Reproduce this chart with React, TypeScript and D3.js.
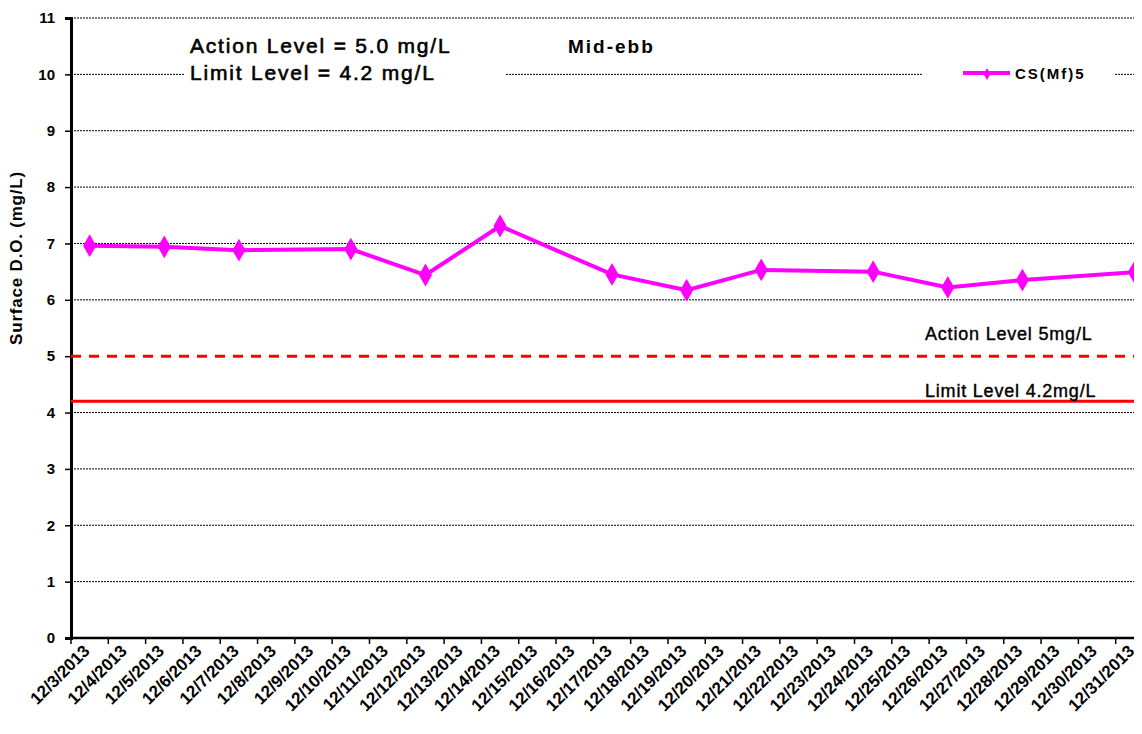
import { useEffect, useRef } from 'react';
import * as d3 from 'd3';

// all category labels on the x axis
const dates = [
  '12/3/2013', '12/4/2013', '12/5/2013', '12/6/2013', '12/7/2013', '12/8/2013', '12/9/2013',
  '12/10/2013', '12/11/2013', '12/12/2013', '12/13/2013', '12/14/2013', '12/15/2013', '12/16/2013',
  '12/17/2013', '12/18/2013', '12/19/2013', '12/20/2013', '12/21/2013', '12/22/2013', '12/23/2013',
  '12/24/2013', '12/25/2013', '12/26/2013', '12/27/2013', '12/28/2013', '12/29/2013', '12/30/2013',
  '12/31/2013',
];

// sampled days and CS(Mf)5 readings
const sampleDates = [
  '12/3/2013', '12/5/2013', '12/7/2013', '12/10/2013', '12/12/2013', '12/14/2013', '12/17/2013',
  '12/19/2013', '12/21/2013', '12/24/2013', '12/26/2013', '12/28/2013', '12/31/2013',
];
const csValues = [6.96, 6.94, 6.88, 6.9, 6.44, 7.31, 6.45, 6.17, 6.53, 6.5, 6.22, 6.35, 6.49];

const yTicks = [0, 1, 2, 3, 4, 5, 6, 7, 8, 9, 10, 11];
const actionLevel = 5.0;
const limitLevel = 4.2;

const FONT = "'Liberation Sans', Arial, sans-serif";

function App() {
  const svgRef = useRef<SVGSVGElement>(null);

  useEffect(() => {
    const w = 1142;
    const h = 734;
    const left = 71;
    const right = 1153;
    const top = 18;
    const bottom = 638;

    const svg = d3.select(svgRef.current)
      .attr('width', w)
      .attr('height', h)
      .style('background', '#ffffff')
      .style('display', 'block');
    svg.selectAll('*').remove();

    const xScale = d3.scaleBand().domain(dates).range([left, right]);
    const yScale = d3.scaleLinear().domain([0, 11]).range([bottom, top]);
    const cx = (d: string) => (xScale(d) as number) + xScale.bandwidth() / 2;

    // dotted gridlines (none at 5, the action line sits there)
    svg.append('g').selectAll('line').data(yTicks.filter(t => t > 0 && t !== 5)).enter()
      .append('line')
      .attr('x1', left).attr('x2', w)
      .attr('y1', d => yScale(d)).attr('y2', d => yScale(d))
      .attr('stroke', '#000').attr('stroke-width', 1)
      .attr('stroke-dasharray', '2,1');

    // white boxes behind the annotation and legend
    svg.append('rect').attr('x', 185).attr('y', 30).attr('width', 320).attr('height', 60).attr('fill', '#fff');
    svg.append('rect').attr('x', 922).attr('y', 58).attr('width', 192).attr('height', 32).attr('fill', '#fff');

    // y axis
    const yAxis = svg.append('g')
      .attr('transform', `translate(${left},0)`)
      .call(d3.axisLeft(yScale).tickValues(yTicks).tickSize(6).tickPadding(10).tickFormat(d3.format('d')));
    yAxis.select('.domain').attr('stroke', '#000').attr('stroke-width', 3);
    yAxis.selectAll('.tick line').attr('stroke', '#000').attr('stroke-width', 1.5);
    yAxis.selectAll('text')
      .attr('font-family', FONT).attr('font-size', '15px').attr('font-weight', 'bold').attr('fill', '#000');

    // x axis: ticks at band edges
    const xg = svg.append('g');
    xg.append('line')
      .attr('x1', left).attr('x2', w).attr('y1', bottom).attr('y2', bottom)
      .attr('stroke', '#000').attr('stroke-width', 2.5);
    xg.selectAll('.tk').data(dates).enter()
      .append('line')
      .attr('class', 'tk')
      .attr('x1', d => xScale(d) as number).attr('x2', d => xScale(d) as number)
      .attr('y1', bottom).attr('y2', bottom + 6)
      .attr('stroke', '#000').attr('stroke-width', 1.5);
    xg.selectAll('.lbl').data(dates).enter()
      .append('text')
      .attr('class', 'lbl')
      .attr('transform', d => `translate(${cx(d) + 1},${bottom + 14}) rotate(-45)`)
      .attr('text-anchor', 'end')
      .attr('font-family', FONT).attr('font-size', '17px').attr('font-weight', 'bold')
      .attr('fill', '#000')
      .text(d => d);

    // y title
    svg.append('text')
      .attr('transform', `translate(22,${(top + bottom) / 2 - 70}) rotate(-90)`)
      .attr('text-anchor', 'middle')
      .attr('font-family', FONT).attr('font-size', '17px').attr('font-weight', 'bold')
      .attr('letter-spacing', '0.8px')
      .text('Surface D.O. (mg/L)');

    // action / limit lines
    svg.append('line')
      .attr('x1', left).attr('x2', w)
      .attr('y1', yScale(actionLevel)).attr('y2', yScale(actionLevel))
      .attr('stroke', '#ff0000').attr('stroke-width', 3).attr('stroke-dasharray', '10,8');
    svg.append('line')
      .attr('x1', left).attr('x2', w)
      .attr('y1', yScale(limitLevel)).attr('y2', yScale(limitLevel))
      .attr('stroke', '#ff0000').attr('stroke-width', 3);

    svg.append('text')
      .attr('x', 925).attr('y', 340)
      .attr('font-family', FONT).attr('font-size', '18px').attr('fill', '#000')
      .attr('stroke', '#000').attr('stroke-width', 0.4).attr('letter-spacing', '0.8px')
      .text('Action Level 5mg/L');
    svg.append('text')
      .attr('x', 925).attr('y', 397)
      .attr('font-family', FONT).attr('font-size', '18px').attr('fill', '#000')
      .attr('stroke', '#000').attr('stroke-width', 0.4).attr('letter-spacing', '0.8px')
      .text('Limit Level 4.2mg/L');

    // annotations
    svg.append('text')
      .attr('x', 190).attr('y', 53)
      .attr('font-family', FONT).attr('font-size', '21px').attr('fill', '#000')
      .attr('stroke', '#000').attr('stroke-width', 0.6).attr('letter-spacing', '1.8px')
      .text('Action Level = 5.0 mg/L');
    svg.append('text')
      .attr('x', 190).attr('y', 80)
      .attr('font-family', FONT).attr('font-size', '21px').attr('fill', '#000')
      .attr('stroke', '#000').attr('stroke-width', 0.6).attr('letter-spacing', '1.8px')
      .text('Limit Level = 4.2 mg/L');
    svg.append('text')
      .attr('x', 568).attr('y', 53)
      .attr('font-family', FONT).attr('font-size', '19px').attr('font-weight', 'bold').attr('fill', '#000')
      .attr('letter-spacing', '2px')
      .text('Mid-ebb');

    // series
    const pts = sampleDates.map((d, i) => [cx(d), yScale(csValues[i])] as [number, number]);
    svg.append('path')
      .attr('d', d3.line()(pts) as string)
      .attr('fill', 'none').attr('stroke', '#ff00ff').attr('stroke-width', 4);
    const diamond = d3.symbol().type(d3.symbolDiamond).size(150);
    svg.selectAll('.pt').data(pts).enter()
      .append('path')
      .attr('class', 'pt')
      .attr('transform', d => `translate(${d[0]},${d[1]})`)
      .attr('d', diamond() as string)
      .attr('fill', '#ff00ff');

    // legend
    svg.append('line')
      .attr('x1', 963).attr('x2', 1010).attr('y1', 73).attr('y2', 73)
      .attr('stroke', '#ff00ff').attr('stroke-width', 4);
    svg.append('path')
      .attr('transform', 'translate(987,74)')
      .attr('d', d3.symbol().type(d3.symbolDiamond).size(40)() as string)
      .attr('fill', '#ff00ff');
    svg.append('text')
      .attr('x', 1015).attr('y', 79)
      .attr('font-family', FONT).attr('font-size', '15px').attr('font-weight', 'bold')
      .attr('letter-spacing', '2px')
      .text('CS(Mf)5');
  }, []);

  return (
    <div style={{ margin: -8, overflow: 'hidden', width: 1142, height: 734 }}>
      <svg ref={svgRef}></svg>
    </div>
  );
}

export default App;
